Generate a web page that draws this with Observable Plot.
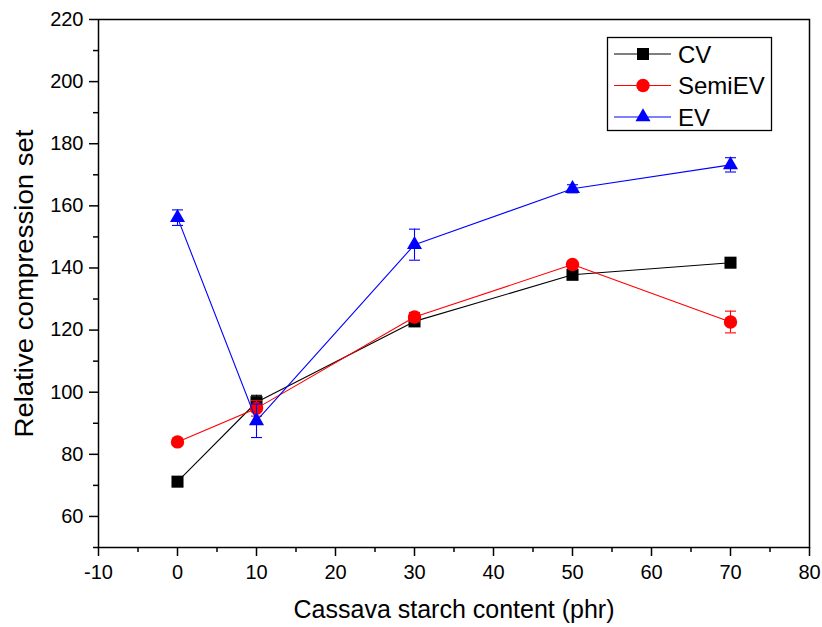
<!DOCTYPE html>
<html>
<head>
<meta charset="utf-8">
<script src="https://cdn.jsdelivr.net/npm/d3@7"></script>
<script src="https://cdn.jsdelivr.net/npm/@observablehq/plot@0.6"></script>
<style>
  body { margin: 0; background: #fff; }
  #chart svg { display: block; }
</style>
</head>
<body>
<div id="chart"></div>
<script>
// Starch loading (phr)
const starch = [0, 10, 30, 50, 70];

// Relative compression set per cure system, with standard deviations
const cvValues     = [71.2, 96.8, 122.8, 137.8, 141.7];
const cvErrors     = [0.8, 2.2, 1.2, 1.0, 0.8];
const semiValues   = [84.0, 94.8, 124.2, 141.1, 122.6];
const semiErrors   = [0.8, 2.5, 1.5, 1.0, 3.5];
const evValues     = [156.2, 90.8, 147.5, 165.5, 173.2];
const evErrors     = [2.5, 5.4, 5.0, 1.3, 2.3];

const seriesNames  = ["CV", "SemiEV", "EV"];
const seriesColors = ["#000000", "#ff0000", "#0000ff"];
const seriesSymbols = ["square", "circle", "triangle"];
const seriesR = [6.8, 6.7, 5.6];

const xTicks = [-10, 0, 10, 20, 30, 40, 50, 60, 70, 80];
const yTicks = [60, 80, 100, 120, 140, 160, 180, 200, 220];

const series = [
  {values: cvValues, errors: cvErrors},
  {values: semiValues, errors: semiErrors},
  {values: evValues, errors: evErrors}
].map((s, i) => ({
  name: seriesNames[i],
  color: seriesColors[i],
  symbol: seriesSymbols[i],
  r: seriesR[i],
  rows: starch.map((x, j) => ({x, y: s.values[j], lo: s.values[j] - s.errors[j], hi: s.values[j] + s.errors[j]}))
}));

// Horizontal cap for error bars
const capSymbol = {
  draw(context) {
    context.moveTo(-5.5, 0);
    context.lineTo(5.5, 0);
  }
};

const font = "'Liberation Sans', Arial, Helvetica, sans-serif";

const marks = [
  Plot.axisX({ticks: d3.range(-5, 80, 10), tickSize: 5, tickFormat: () => "", strokeWidth: 1.5, label: null}),
  Plot.axisX({ticks: xTicks, tickSize: 9, tickPadding: 8, fontSize: 20, tickFormat: d => String(d), strokeWidth: 1.5, label: null}),
  Plot.axisY({ticks: d3.range(50, 221, 20), tickSize: 5, tickFormat: () => "", strokeWidth: 1.5, label: null}),
  Plot.axisY({ticks: yTicks, tickSize: 9, tickPadding: 6, fontSize: 20, tickFormat: d => String(d), strokeWidth: 1.5, label: null}),
  Plot.frame({stroke: "#000", strokeWidth: 1.5}),
  Plot.text(["Cassava starch content (phr)"], {frameAnchor: "bottom", dy: 62, text: d => d, fontSize: 25, lineAnchor: "middle", textAnchor: "middle"}),
  Plot.text(["Relative compression set"], {frameAnchor: "left", dx: -74, rotate: -90, text: d => d, fontSize: 25, lineAnchor: "middle", textAnchor: "middle", className: "y-title"})
];

for (const s of series) {
  marks.push(
    Plot.line(s.rows, {x: "x", y: "y", stroke: s.color, strokeWidth: 1.1}),
    Plot.ruleX(s.rows, {x: "x", y1: "lo", y2: "hi", stroke: s.color, strokeWidth: 1.1}),
    Plot.dot(s.rows, {x: "x", y: "hi", symbol: capSymbol, stroke: s.color, fill: "none", strokeWidth: 1.1}),
    Plot.dot(s.rows, {x: "x", y: "lo", symbol: capSymbol, stroke: s.color, fill: "none", strokeWidth: 1.1}),
    Plot.dot(s.rows, {x: "x", y: "y", symbol: s.symbol, r: s.r, fill: s.color, stroke: "none"})
  );
}

const chart = Plot.plot({
  width: 822,
  height: 627,
  marginLeft: 98,
  marginRight: 13,
  marginTop: 19,
  marginBottom: 80,
  style: {fontFamily: font, color: "#000", background: "#fff"},
  x: {domain: [-10, 80]},
  y: {domain: [50, 220]},
  marks
});

const svg = d3.select(chart);

// The vertical axis title is set slightly wider than its natural width
svg.selectAll(".y-title text")
  .attr("textLength", 308)
  .attr("lengthAdjust", "spacingAndGlyphs");

// Legend box in the upper right of the frame
const legend = svg.append("g").attr("font-family", font).attr("text-anchor", "start");
legend.append("rect")
  .attr("x", 607.5).attr("y", 37.5).attr("width", 164).attr("height", 93)
  .attr("fill", "#fff").attr("stroke", "#000").attr("stroke-width", 1.3);
series.forEach((s, i) => {
  const cy = 54 + i * 31.5;
  legend.append("line")
    .attr("x1", 614).attr("x2", 671).attr("y1", cy).attr("y2", cy)
    .attr("stroke", s.color).attr("stroke-width", 1.1);
  const sym = {square: d3.symbolSquare, circle: d3.symbolCircle, triangle: d3.symbolTriangle}[s.symbol];
  legend.append("path")
    .attr("transform", `translate(643,${cy})`)
    .attr("d", d3.symbol(sym, Math.PI * s.r * s.r)())
    .attr("fill", s.color);
  legend.append("text")
    .attr("x", 678).attr("y", cy).attr("dy", "0.36em")
    .attr("font-size", 24).attr("fill", "#000")
    .text(s.name);
});

document.getElementById("chart").appendChild(chart);
</script>
</body>
</html>
